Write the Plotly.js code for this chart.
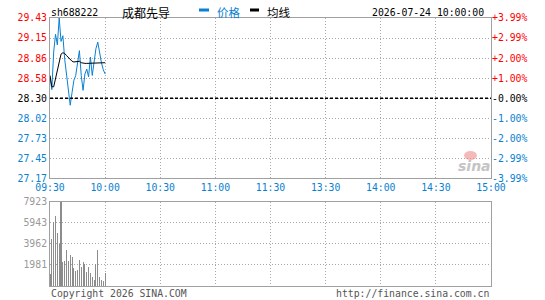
<!DOCTYPE html>
<html><head><meta charset="utf-8">
<script src="https://cdn.plot.ly/plotly-3.0.1.min.js"></script>
<style>html,body{margin:0;padding:0;background:#fff;}#chart{width:545px;height:300px;}</style>
</head><body><div id="chart"></div>
<script>
// ---- data ----
const minutes = [0,1,2,3,4,5,6,7,8,9,10,11,12,13,14,15,16,17,18,19,20,21,22,23,24,25,26,27,28,29,30];
const price = [28.60,28.42,28.95,29.20,29.05,29.43,29.10,29.18,28.85,28.62,28.40,28.20,28.38,28.55,28.62,28.80,28.97,28.62,28.41,28.64,28.71,28.60,28.88,28.62,28.78,29.00,29.09,28.93,28.80,28.70,28.64];
const avgPrice = [28.62,28.46,28.46,28.57,28.69,28.78,28.92,28.94,28.93,28.90,28.87,28.84,28.82,28.81,28.81,28.82,28.82,28.80,28.79,28.79,28.79,28.79,28.79,28.79,28.79,28.79,28.80,28.80,28.80,28.80,28.80];
const volume = [1110,4440,5960,6560,5010,3960,7923,2220,2310,3390,2380,2920,2760,1680,1430,1460,2400,1780,2250,2090,1310,1780,1240,830,520,2090,3350,830,520,440,1240];
const priceLabels = ['27.17','27.45','27.73','28.02','28.30','28.58','28.86','29.15','29.43'];
const pctLabels = ['-3.99%','-2.99%','-2.00%','-1.00%','-0.00%','+1.00%','+2.00%','+2.99%','+3.99%'];
const volLabels = ['1981','3962','5943','7923'];
const timeLabels = ['09:30','10:00','10:30','11:00','11:30','13:30','14:00','14:30','15:00'];
const timeTicks = [0,30,60,90,120,150,180,210,240];
const prevClose = 28.30, priceMin = 27.17, priceMax = 29.43, volMax = 7923;
const code = 'sh688222', stockName = '成都先导', stamp = '2026-07-24 10:00:00';

// ---- styling ----
const BLUE = '#0981d1', RED = '#ff0000', FRAME = '#a0a0a0', GRID = '#a8a8a8';
const MONO = 'DejaVu Sans Mono', CJK = 'Noto Sans CJK SC';
const W = 545, H = 300, ML = 50, MR = 54, MT = 18, MB = 14;
const PW = W - ML - MR, PH = H - MT - MB;
const px = x => (x - ML) / PW, py = y => (H - MB - y) / PH;

const n = priceLabels.length, mid = (n - 1) / 2;
const priceVals = priceLabels.map((_, i) => priceMin + i * (priceMax - priceMin) / (n - 1));
const colorFor = i => i < mid ? BLUE : (i > mid ? RED : '#000');
const wrap = (t, i) => i === mid ? t : `<span style="color:${colorFor(i)}">${t}</span>`;
const priceText = priceLabels.map(wrap);
const pctText = pctLabels.map(wrap);
const volVals = volLabels.map((_, i) => volMax * (i + 1) / volLabels.length);

const tickFont = {family: MONO, size: 9.8, color: '#000'};
const dotGrid = '1px,2px';

const traces = [
  {x: minutes, y: price, xaxis: 'x', yaxis: 'y', type: 'scatter', mode: 'lines',
   line: {color: BLUE, width: 1}, hoverinfo: 'skip'},
  {x: minutes, y: avgPrice, xaxis: 'x', yaxis: 'y', type: 'scatter', mode: 'lines',
   line: {color: '#000', width: 1}, hoverinfo: 'skip'},
  {x: minutes, y: price, xaxis: 'x', yaxis: 'y3', type: 'scatter', mode: 'lines',
   line: {color: 'rgba(0,0,0,0)', width: 0}, hoverinfo: 'skip'},
  {x: minutes, y: volume, xaxis: 'x2', yaxis: 'y2', type: 'bar', width: 0.6,
   marker: {color: '#8c8c8c', line: {width: 0}}, hoverinfo: 'skip'}
];

const xBase = {range: [0, 240], tickvals: timeTicks, showgrid: true, gridcolor: GRID, griddash: dotGrid,
  gridwidth: 1, showline: true, mirror: true, linecolor: FRAME, linewidth: 1, zeroline: false,
  ticks: '', fixedrange: true};

const layout = {
  width: W, height: H, margin: {l: ML, r: MR, t: MT, b: MB, pad: 0},
  paper_bgcolor: '#fff', plot_bgcolor: '#fff', showlegend: false, bargap: 0,
  xaxis: Object.assign({}, xBase, {domain: [0, 1], anchor: 'y', ticktext: timeLabels,
    tickfont: {family: MONO, size: 9.8, color: BLUE}}),
  xaxis2: Object.assign({}, xBase, {domain: [0, 1], anchor: 'y2', showticklabels: false}),
  yaxis: {domain: [py(178.3), 1], range: [priceMin, priceMax], tickvals: priceVals, ticktext: priceText,
    tickfont: tickFont, showgrid: true, gridcolor: GRID, griddash: dotGrid, gridwidth: 1,
    showline: true, mirror: true, linecolor: FRAME, linewidth: 1, zeroline: false, ticks: '', anchor: 'x'},
  yaxis3: {overlaying: 'y', side: 'right', range: [priceMin, priceMax], tickvals: priceVals, ticktext: pctText,
    tickfont: tickFont, showgrid: false, zeroline: false, showline: false, ticks: '', anchor: 'x'},
  yaxis2: {domain: [0, py(201.5)], range: [0, volMax], tickvals: volVals, ticktext: volLabels,
    tickfont: {family: MONO, size: 9.8, color: '#999'}, showgrid: true, gridcolor: GRID, griddash: dotGrid,
    gridwidth: 1, showline: true, mirror: true, linecolor: FRAME, linewidth: 1, zeroline: false, ticks: '', anchor: 'x2'},
  shapes: [
    {type: 'line', xref: 'x', yref: 'y', x0: 0, x1: 240, y0: prevClose, y1: prevClose,
     line: {color: '#000', width: 1.5, dash: '3px,2px'}},
    {type: 'rect', xref: 'paper', yref: 'paper', x0: px(199), x1: px(209), y0: py(11.5), y1: py(8.5),
     fillcolor: BLUE, line: {width: 0}},
    {type: 'rect', xref: 'paper', yref: 'paper', x0: px(250), x1: px(259), y0: py(11.5), y1: py(8.5),
     fillcolor: '#000', line: {width: 0}},
    {type: 'circle', xref: 'paper', yref: 'paper', x0: px(464), x1: px(477), y0: py(160), y1: py(151),
     fillcolor: 'rgba(235,130,130,0.55)', line: {width: 0}}
  ],
  annotations: [
    {text: code, x: px(49), y: py(12), xref: 'paper', yref: 'paper', xanchor: 'left', yanchor: 'middle',
     showarrow: false, font: {family: MONO, size: 9.8, color: '#000'}},
    {text: stockName, x: px(120), y: py(12), xref: 'paper', yref: 'paper', xanchor: 'left', yanchor: 'middle',
     showarrow: false, font: {family: CJK, size: 12, color: '#000'}},
    {text: '价格', x: px(215), y: py(12), xref: 'paper', yref: 'paper', xanchor: 'left', yanchor: 'middle',
     showarrow: false, font: {family: CJK, size: 11.5, color: BLUE}},
    {text: '均线', x: px(264.5), y: py(12), xref: 'paper', yref: 'paper', xanchor: 'left', yanchor: 'middle',
     showarrow: false, font: {family: CJK, size: 11.5, color: '#000'}},
    {text: stamp, x: px(486), y: py(12), xref: 'paper', yref: 'paper', xanchor: 'right', yanchor: 'middle',
     showarrow: false, font: {family: MONO, size: 9.8, color: '#000'}},
    {text: 'Copyright 2026 SINA.COM', x: px(49), y: py(293.5), xref: 'paper', yref: 'paper', xanchor: 'left',
     yanchor: 'middle', showarrow: false, font: {family: MONO, size: 9.8, color: '#555'}},
    {text: 'http://finance.sina.com.cn', x: px(491), y: py(293.5), xref: 'paper', yref: 'paper', xanchor: 'right',
     yanchor: 'middle', showarrow: false, font: {family: MONO, size: 9.8, color: '#555'}},
    {text: '<b><i>sina</i></b>', x: px(474), y: py(166), xref: 'paper', yref: 'paper', xanchor: 'center',
     yanchor: 'middle', showarrow: false, font: {family: 'DejaVu Sans', size: 14, color: '#c4c4c4'}}
  ]
};

Plotly.newPlot('chart', traces, layout, {staticPlot: true, displayModeBar: false});
</script></body></html>
